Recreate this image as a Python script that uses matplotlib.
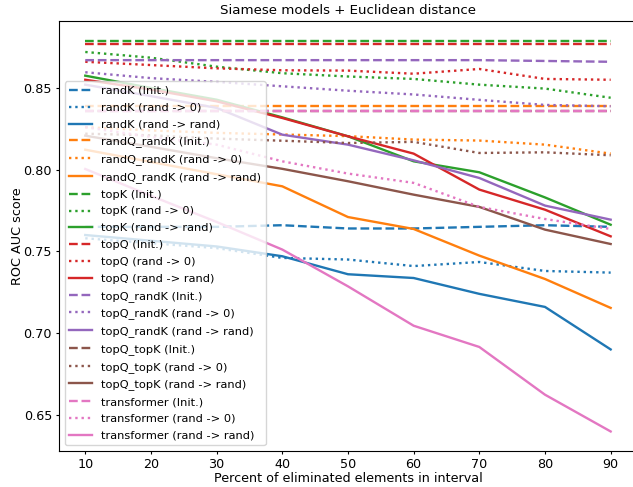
import matplotlib
matplotlib.use("Agg")
import matplotlib.pyplot as plt

percents = [10, 20, 30, 40, 50, 60, 70, 80, 90]

models = ["randK", "randQ_randK", "topK", "topQ", "topQ_randK", "topQ_topK", "transformer"]
colors = ["tab:blue", "tab:orange", "tab:green", "tab:red", "tab:purple", "tab:brown", "tab:pink"]

# ROC AUC per model: initial weights, weights set to 0, weights re-randomised
randK_init = [0.765, 0.765, 0.765, 0.766, 0.764, 0.764, 0.765, 0.766, 0.765]
randK_zero = [0.758, 0.755, 0.752, 0.746, 0.745, 0.741, 0.7435, 0.738, 0.737]
randK_rand = [0.760, 0.7565, 0.753, 0.747, 0.736, 0.7337, 0.724, 0.716, 0.690]

randQ_randK_init = [0.839, 0.839, 0.839, 0.839, 0.839, 0.839, 0.839, 0.839, 0.839]
randQ_randK_zero = [0.826, 0.824, 0.8225, 0.8215, 0.8205, 0.8184, 0.8178, 0.8153, 0.8098]
randQ_randK_rand = [0.8122, 0.8047, 0.7972, 0.7898, 0.771, 0.7637, 0.7474, 0.7331, 0.7154]

topK_init = [0.879, 0.879, 0.879, 0.879, 0.879, 0.879, 0.879, 0.879, 0.879]
topK_zero = [0.872, 0.8685, 0.863, 0.859, 0.857, 0.8555, 0.852, 0.8496, 0.844]
topK_rand = [0.8575, 0.850, 0.8428, 0.832, 0.8204, 0.8051, 0.7984, 0.783, 0.7663]

topQ_init = [0.877, 0.877, 0.877, 0.877, 0.877, 0.877, 0.877, 0.877, 0.877]
topQ_zero = [0.866, 0.864, 0.862, 0.8608, 0.8606, 0.8587, 0.8616, 0.8555, 0.855]
topQ_rand = [0.855, 0.849, 0.8418, 0.8316, 0.8204, 0.8098, 0.7878, 0.7755, 0.7592]

topQ_randK_init = [0.867, 0.867, 0.867, 0.867, 0.867, 0.867, 0.867, 0.8665, 0.866]
topQ_randK_zero = [0.8596, 0.856, 0.8537, 0.851, 0.8483, 0.846, 0.8427, 0.8396, 0.8388]
topQ_randK_rand = [0.852, 0.845, 0.8378, 0.8214, 0.8153, 0.8057, 0.7949, 0.778, 0.7694]

topQ_topK_init = [0.836, 0.836, 0.836, 0.836, 0.836, 0.836, 0.836, 0.836, 0.836]
topQ_topK_zero = [0.822, 0.821, 0.819, 0.8177, 0.8163, 0.817, 0.8102, 0.8106, 0.8088]
topQ_topK_rand = [0.8208, 0.814, 0.807, 0.8005, 0.7929, 0.7847, 0.7772, 0.7633, 0.7545]

transformer_init = [0.836, 0.836, 0.836, 0.836, 0.836, 0.836, 0.836, 0.836, 0.836]
transformer_zero = [0.826, 0.820, 0.8153, 0.8051, 0.7976, 0.7919, 0.7772, 0.7698, 0.7637]
transformer_rand = [0.8004, 0.784, 0.768, 0.7511, 0.7286, 0.7045, 0.6915, 0.6623, 0.6398]

results = {
    "randK": (randK_init, randK_zero, randK_rand),
    "randQ_randK": (randQ_randK_init, randQ_randK_zero, randQ_randK_rand),
    "topK": (topK_init, topK_zero, topK_rand),
    "topQ": (topQ_init, topQ_zero, topQ_rand),
    "topQ_randK": (topQ_randK_init, topQ_randK_zero, topQ_randK_rand),
    "topQ_topK": (topQ_topK_init, topQ_topK_zero, topQ_topK_rand),
    "transformer": (transformer_init, transformer_zero, transformer_rand),
}

variants = ["Init.", "rand -> 0", "rand -> rand"]
styles = ["--", ":", "-"]

fs = 9.2
fig = plt.figure(figsize=(6.33, 4.87), dpi=100)
ax = fig.add_axes([0.0932, 0.0739, 0.913, 0.883])

for model, color in zip(models, colors):
    for values, variant, ls in zip(results[model], variants, styles):
        ax.plot(percents, values, linestyle=ls, color=color, linewidth=1.7,
                label=f"{model} ({variant})")

ax.set_title("Siamese models + Euclidean distance", fontsize=9.6, pad=5)
ax.set_xlabel("Percent of eliminated elements in interval", fontsize=fs, labelpad=1)
ax.set_ylabel("ROC AUC score", fontsize=fs, labelpad=0)
ax.set_xticks(percents)
ax.tick_params(labelsize=fs, length=2.5, pad=2.5)
ax.legend(loc="lower left", fontsize=8.2, labelspacing=0.6)

fig.savefig("out.png", dpi=100)
